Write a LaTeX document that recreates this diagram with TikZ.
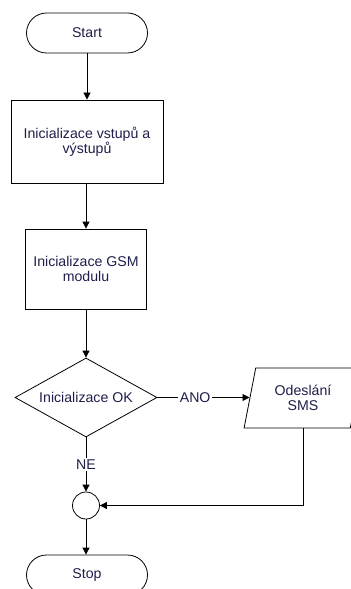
\documentclass[tikz,border=0pt]{standalone}
\usepackage{fontspec}
\setmainfont{Liberation Sans}
\usetikzlibrary{shapes.geometric,arrows.meta}
\definecolor{txt}{HTML}{1E1E4A}
\begin{document}
\begin{tikzpicture}[x=1bp,y=-1bp,
  every node/.style={font=\fontsize{14.2}{15.5}\selectfont, text=txt, align=center, inner sep=0pt},
  term/.style={draw, line width=0.8bp, rounded corners=20bp, minimum width=121bp, minimum height=40bp},
  proc/.style={draw, line width=0.8bp},
  dec/.style={draw, line width=0.8bp, diamond, shape aspect=1.8, minimum width=142bp, minimum height=79bp},
  io/.style={draw, line width=0.8bp, trapezium, trapezium left angle=75, trapezium right angle=105, trapezium stretches=true, minimum width=118bp, minimum height=60bp},
  joint/.style={draw, line width=0.8bp, circle, minimum size=27bp},
  conn/.style={line width=0.8bp, -{Triangle[length=7bp,width=7bp]}},
  lbl/.style={fill=white, inner sep=2bp}
]
\useasboundingbox (0,0) rectangle (350,589);
\node[term] (start) at (87,33) {Start};
\node[proc, minimum width=152bp, minimum height=83bp] (b1) at (87,141.5) {Inicializace vstupů a\\výstupů};
\node[proc, minimum width=121bp, minimum height=80bp] (b2) at (86,269) {Inicializace GSM\\modulu};
\node[dec] (d) at (86,397.5) {Inicializace OK};
\node[io] (sms) at (303,398) {Odeslání\\SMS};
\node[joint] (c) at (86,505.5) {};
\node[term] (stop) at (87,575) {Stop};

\draw[conn] (start.south -| b1.north) -- (b1.north);
\draw[conn] (b1.south -| b2.north) -- (b2.north);
\draw[conn] (b2) -- (d);
\draw[conn] (d.east) -- node[lbl, pos=0.41] {ANO} (d.east -| sms.west);
\draw[conn] (d.south) -- node[lbl] {NE} (c.north);
\draw[conn] (sms.south -| sms.center) |- (c.east);
\draw[conn] (c.south) -- (c.south |- stop.north);
\end{tikzpicture}
\end{document}
